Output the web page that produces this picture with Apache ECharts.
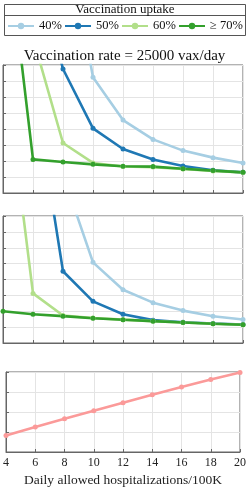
<!DOCTYPE html>
<html><head><meta charset="utf-8">
<script src="https://cdn.jsdelivr.net/npm/echarts@6/dist/echarts.min.js"></script>
<style>html,body{margin:0;padding:0;background:#fff}#c{width:249px;height:488px}</style>
</head><body><div id="c"></div>
<script>
var xs = [4, 6, 8, 10, 12, 14, 16, 18, 20];
var legendNames = ['40%', '50%', '60%', '≥ 70%'];
var colors = ['#a6cee3', '#1f78b4', '#b2df8a', '#33a02c'];
// Panel 1 (vaccination rate = 25000 vax/day)
var p1_40 = [35, 25, 17.5, 7.23, 4.56, 3.35, 2.65, 2.21, 1.875];
var p1_50 = [25, 15, 7.75, 4.04, 2.75, 2.10, 1.69, 1.42, 1.29];
var p1_60 = [20, 9.7, 3.125, 1.88, 1.66, 1.62, 1.50, 1.38, 1.28];
var p1_70 = [18, 2.10, 1.94, 1.79, 1.67, 1.65, 1.52, 1.40, 1.29];
// Panel 2
var p2_40 = [20, 15, 10.6, 5.08, 3.35, 2.54, 2.04, 1.69, 1.48];
var p2_50 = [30, 16.5, 4.52, 2.625, 1.81, 1.44, 1.31, 1.23, 1.17];
var p2_60 = [18.3, 3.125, 1.73, 1.57, 1.47, 1.38, 1.29, 1.21, 1.15];
var p2_70 = [2.0, 1.81, 1.69, 1.56, 1.46, 1.375, 1.29, 1.21, 1.15];
// Panel 3
var p3 = [0.83, 1.25, 1.66, 2.06, 2.46, 2.86, 3.25, 3.62, 3.97];
var titleText = 'Vaccination rate = 25000 vax/day';
var legendTitle = 'Vaccination uptake';
var xTitle = 'Daily allowed hospitalizations/100K';

var FONT = 'Liberation Serif';
var chart = echarts.init(document.getElementById('c'), null, {renderer: 'canvas'});
function pairs(arr) { return xs.map(function (x, i) { return [x, arr[i]]; }); }
function grid(top, h) { return {left: 3, right: 6, top: top, height: h, show: true, borderColor: '#666', borderWidth: 1, backgroundColor: 'transparent'}; }
function xAx(idx, labels) {
  return {type: 'value', gridIndex: idx, min: 4, max: 20, interval: 2,
    axisLine: {show: true, lineStyle: {color: '#666'}},
    axisTick: {show: true, inside: true, length: 3, lineStyle: {color: '#666'}},
    axisLabel: {show: labels, color: '#222', fontFamily: FONT, fontSize: 12, margin: 5},
    splitLine: {show: true, lineStyle: {color: '#e4e4e4', width: 1}},
    name: labels ? xTitle : '', nameLocation: 'middle', nameGap: 21,
    nameTextStyle: {color: '#222', fontFamily: FONT, fontSize: 13.5}};
}
function yAx(idx, max) {
  return {type: 'value', gridIndex: idx, min: 0, max: max, interval: 1,
    axisLine: {show: true, lineStyle: {color: '#666'}},
    axisTick: {show: true, inside: true, length: 3, lineStyle: {color: '#666'}},
    axisLabel: {show: false},
    splitLine: {show: true, lineStyle: {color: '#e4e4e4', width: 1}}};
}
function ser(name, data, color, idx) {
  return {type: 'line', name: name, data: pairs(data), xAxisIndex: idx, yAxisIndex: idx,
    symbol: 'circle', symbolSize: 5, clip: true, animation: false,
    lineStyle: {color: color, width: 2.6}, itemStyle: {color: color}};
}
var series = [];
[[p1_40, p1_50, p1_60, p1_70], [p2_40, p2_50, p2_60, p2_70]].forEach(function (set, gi) {
  set.forEach(function (arr, k) { series.push(ser(legendNames[k], arr, colors[k], gi)); });
});
series.push(ser('rate', p3, '#fb9a99', 2));

var legendLefts = [7, 64, 121, 178];
var legends = legendNames.map(function (n, k) {
  return {data: [n], left: legendLefts[k], top: 19.5, itemWidth: 26, itemHeight: 8, itemGap: 0, padding: 0,
    textStyle: {fontFamily: FONT, fontSize: 12.5, color: '#111'}};
});

chart.setOption({
  animation: false,
  title: {text: titleText, left: 'center', top: 44, textStyle: {fontFamily: FONT, fontSize: 15, fontWeight: 'normal', color: '#111'}},
  legend: legends,
  graphic: [
    {type: 'rect', shape: {x: 4.5, y: 4.5, width: 241, height: 31}, style: {fill: 'none', stroke: '#555', lineWidth: 1}},
    {type: 'line', shape: {x1: 4.5, y1: 15.5, x2: 245.5, y2: 15.5}, style: {stroke: '#555', lineWidth: 1}},
    {type: 'text', x: 125, y: 10, style: {text: legendTitle, font: '13px "' + FONT + '"', fill: '#111', textAlign: 'center', textVerticalAlign: 'middle'}}
  ],
  grid: [grid(65, 128), grid(216, 127), grid(372, 83)],
  xAxis: [xAx(0, false), xAx(1, false), xAx(2, true)],
  yAxis: [yAx(0, 8), yAx(1, 8), yAx(2, 4)],
  series: series
});
</script></body></html>
